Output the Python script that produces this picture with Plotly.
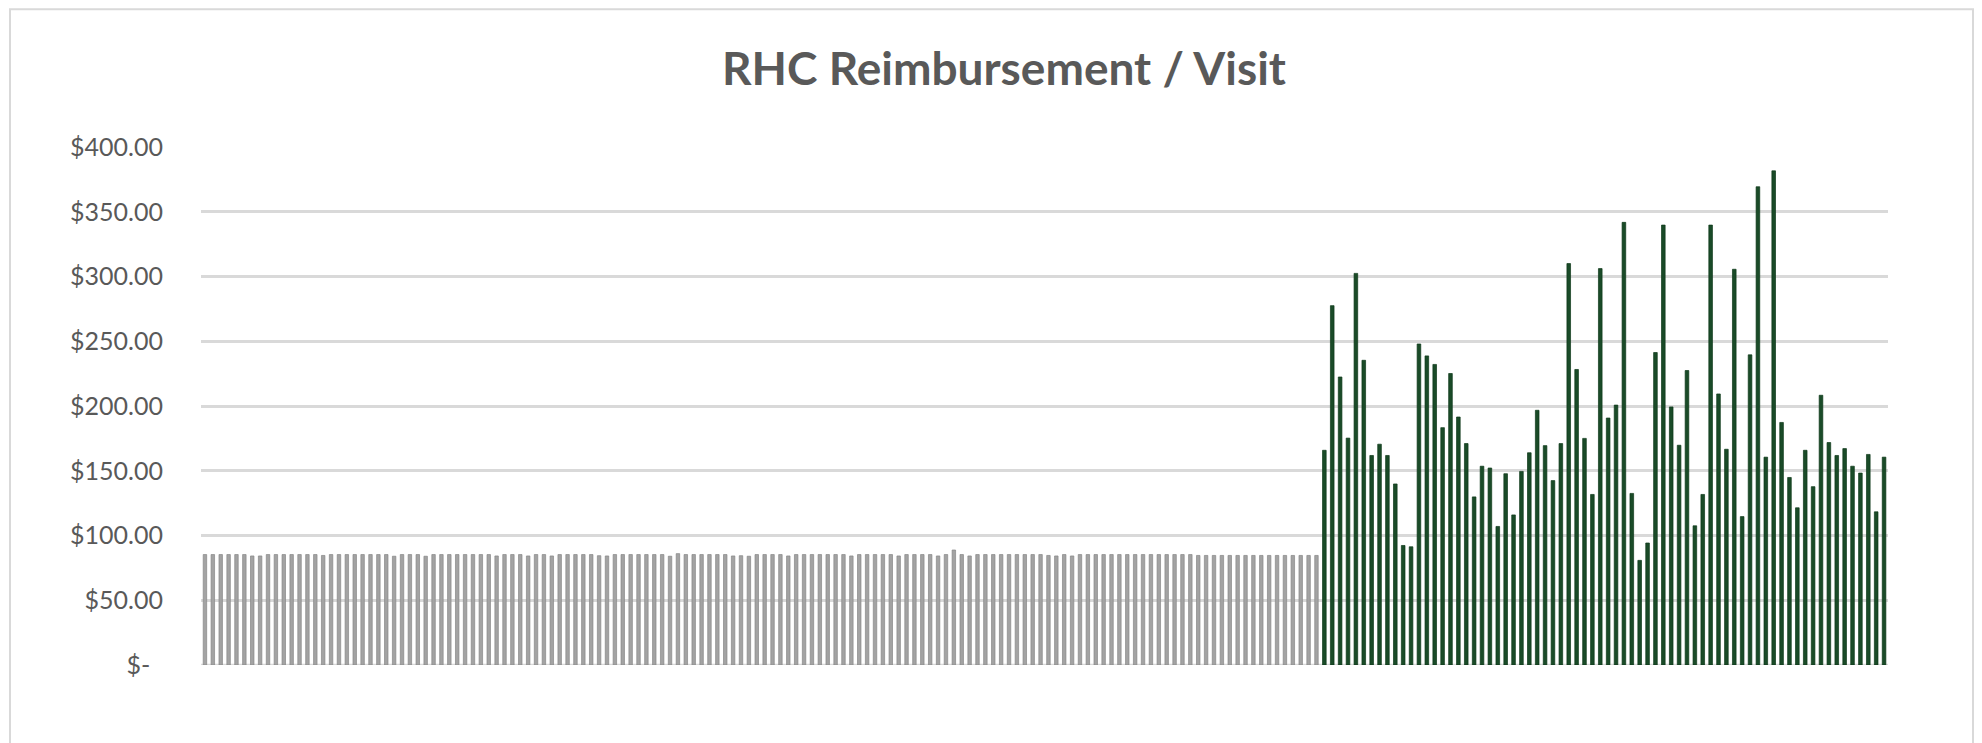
import plotly.graph_objects as go

# ---- data ----
gray_values = [
    85.3, 85.3, 85.3, 85.3, 85.3, 85.3, 84.2, 84.2, 85.3, 85.3,
    85.3, 85.3, 85.3, 85.3, 85.3, 84.6, 85.3, 85.3, 85.3, 85.3,
    85.3, 85.3, 85.3, 85.3, 84.0, 85.3, 85.3, 85.3, 84.0, 85.3,
    85.3, 85.3, 85.3, 85.3, 85.3, 85.3, 85.3, 84.2, 85.3, 85.3,
    85.3, 84.2, 85.3, 85.3, 84.2, 85.3, 85.3, 85.3, 85.3, 85.3,
    84.4, 84.2, 85.3, 85.3, 85.3, 85.3, 85.3, 85.3, 85.3, 84.0,
    86.0, 85.3, 85.3, 85.3, 85.3, 85.3, 85.3, 84.2, 84.4, 84.0,
    85.3, 85.3, 85.3, 85.3, 84.2, 85.3, 85.3, 85.3, 85.3, 85.3,
    85.3, 85.3, 84.2, 85.3, 85.3, 85.3, 85.3, 85.3, 84.2, 85.3,
    85.3, 85.3, 85.3, 84.2, 85.3, 88.8, 85.3, 84.2, 85.3, 85.3,
    85.3, 85.3, 85.3, 85.3, 85.3, 85.3, 85.3, 84.6, 84.2, 85.3,
    84.2, 85.3, 85.3, 85.3, 85.3, 85.3, 85.3, 85.3, 85.3, 85.3,
    85.3, 85.3, 85.3, 85.3, 85.3, 85.3, 84.6, 84.6, 84.6, 84.6,
    84.6, 84.6, 84.6, 84.6, 84.6, 84.6, 84.6, 84.6, 84.6, 84.6,
    84.6, 84.6,
]

green_values = [
    165.8, 277.5, 222.4, 175.2, 302.4, 235.3, 161.8, 170.5, 161.8, 139.8,
    92.3, 91.3, 247.9, 238.7, 232.1, 183.3, 225.1, 191.5, 171.0, 129.8,
    153.5, 152.1, 107.0, 147.7, 115.9, 149.5, 163.9, 196.7, 169.4, 142.4,
    171.0, 310.0, 228.2, 175.0, 131.7, 306.1, 190.7, 200.7, 341.8, 132.5,
    80.8, 94.2, 241.3, 339.7, 199.3, 169.7, 227.4, 107.5, 131.7, 339.7,
    209.3, 166.6, 305.6, 114.6, 239.5, 369.3, 160.5, 381.6, 187.3, 144.8,
    121.4, 165.8, 137.7, 208.3, 171.8, 161.8, 167.1, 153.5, 148.2, 162.6,
    118.3, 160.5,
]

n_gray = len(gray_values)
gray_x = list(range(n_gray))
green_x = list(range(n_gray, n_gray + len(green_values)))

tick_vals = [0, 50, 100, 150, 200, 250, 300, 350, 400]
tick_text = ["$-\u00a0\u00a0", "$50.00", "$100.00", "$150.00", "$200.00",
             "$250.00", "$300.00", "$350.00", "$400.00"]

title_text = "RHC Reimbursement / Visit"

# ---- layout geometry (page pixels; the page body has an 8px margin) ----
OFF = 8
PAGE_W, PAGE_H = 1982, 743
W, H = PAGE_W - OFF, PAGE_H - OFF
L, R, T, B = 201 - OFF, 1888 - OFF, 147 - OFF, 665.5 - OFF

def px(xp):
    return (xp - OFF - L) / (R - L)

def py(yp):
    return (B - (yp - OFF)) / (B - T)

fig = go.Figure()
fig.add_trace(go.Bar(
    x=gray_x, y=gray_values, width=0.44,
    marker=dict(color="#a3a3a3", line=dict(color="#878787", width=0.7)),
    showlegend=False,
))
fig.add_trace(go.Bar(
    x=green_x, y=green_values, width=0.46,
    marker=dict(color="#1a4b28", line=dict(color="#0d3819", width=0.7)),
    showlegend=False,
))

fig.update_layout(
    width=W, height=H,
    margin=dict(l=L, r=W - R, t=T, b=H - B, pad=0, autoexpand=False),
    paper_bgcolor="white", plot_bgcolor="white",
    barmode="overlay",
    font=dict(family="Lato, Open Sans, sans-serif", color="#595959"),
    title=dict(
        text=title_text,
        xref="container", yref="container",
        x=(1004 - OFF) / W, y=1 - (69 - OFF) / H, xanchor="center", yanchor="middle",
        font=dict(family="Lato, Open Sans, sans-serif", size=46, color="#595959", weight="bold"),
    ),
    xaxis=dict(
        range=[-0.5, n_gray + len(green_values) - 0.5],
        showgrid=False, showticklabels=False, zeroline=False,
        showline=False, ticks="", automargin=False,
    ),
    yaxis=dict(
        range=[0, 400],
        tickvals=tick_vals, ticktext=tick_text,
        tickfont=dict(size=25, color="#595959"),
        showgrid=True, gridcolor="#d9d9d9", gridwidth=2.5,
        zeroline=False, showline=False, ticks="",
        ticklabelstandoff=37, automargin=False,
    ),
    shapes=[
        dict(type="rect", xref="paper", yref="paper",
             x0=px(10), x1=px(1973), y0=py(9), y1=py(800),
             line=dict(color="#d9d9d9", width=2), fillcolor="rgba(0,0,0,0)",
             layer="below"),
        dict(type="line", xref="paper", yref="y",
             x0=0, x1=1, y0=0, y1=0,
             line=dict(color="#d9d9d9", width=2.5), layer="below"),
    ],
)

fig.write_html("out.html")
